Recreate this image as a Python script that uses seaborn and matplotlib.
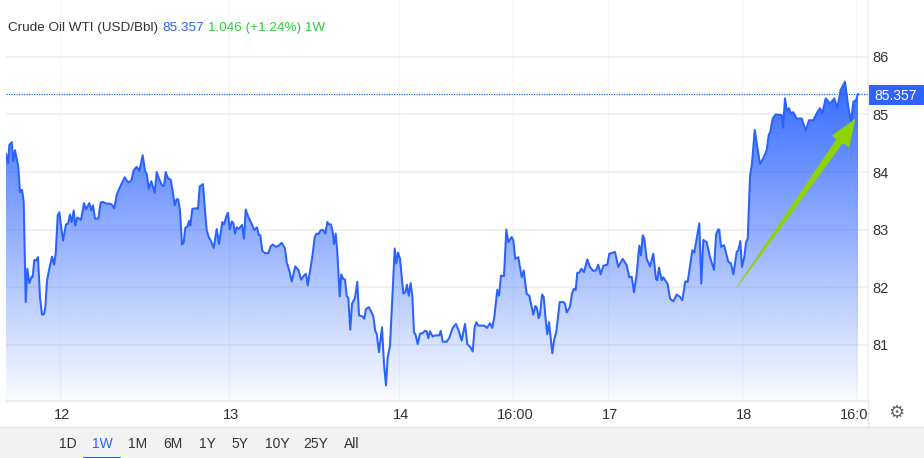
import numpy as np
import pandas as pd
import seaborn as sns
import matplotlib.pyplot as plt
from matplotlib.colors import to_rgb
from matplotlib.patches import Rectangle, Polygon
from matplotlib.transforms import ScaledTranslation

# bar number (roughly one per pixel of the week view) and WTI price
bars = [0, 2, 3.3, 5.7, 7.3, 9, 12.3, 14, 16, 17.7,
        19.7, 21.3, 23.3, 25.7, 26.7, 28.3, 30, 32, 34, 36,
        38, 39.3, 41, 43.3, 46, 48, 49.7, 51.7, 53.3, 57,
        60, 62, 64, 65.7, 67.7, 69.3, 71.3, 75, 78, 80,
        83.3, 85.3, 87, 89, 92.3, 94.7, 96.7, 100.7, 104, 106.7,
        108.3, 110.7, 112.7, 115.7, 118.7, 122, 125.3, 127.7, 130.7, 133.3,
        136.7, 139, 140.7, 142.7, 145.3, 148.7, 150.7, 153.3, 156.3, 158,
        159.7, 162, 164.7, 167.3, 168.7, 170.7, 172.3, 174, 176, 177.7,
        179.3, 181.3, 183, 184.3, 186.3, 190.7, 192, 193.7, 197, 199,
        200.7, 202.7, 204.7, 207.7, 210.7, 213, 216.3, 218, 220.7, 222,
        223.7, 225.7, 227.3, 229, 230.7, 232.7, 236, 238, 239.7, 242.3,
        245.7, 248.3, 251, 252.7, 254.3, 256.3, 259, 262.3, 264.7, 266.7,
        269.7, 272.7, 275.7, 279, 280.7, 283.3, 285.7, 289.3, 292.7, 295,
        298, 300, 301.7,
        305, 306.7, 308.7, 310.7, 312.3, 314.7, 317.3, 319.3, 321.3, 323,
        325, 326.7, 328, 329.7, 331.3, 333.7, 335.3, 337.3, 339, 340.7,
        342.3, 344.3, 346, 349, 351.3, 353, 356.3, 358.3, 360, 363,
        365, 367.3, 369.3, 370.7, 373, 376, 378, 380, 381.7, 384,
        386, 388.7, 390.3, 392, 394, 397.3, 399.3, 401, 402.7, 404.7,
        406.3, 408, 409.7, 411.7, 414, 416.7, 419, 420.7, 422.3, 424,
        426.7, 429, 433.3, 434.7, 436.7, 440.7, 443.3, 446.7, 450, 452.7,
        455.7, 459, 461.3, 464.7, 466.7, 468.7, 470.3, 472.3, 478.3, 481,
        484, 486.3, 488.3, 491.3, 493, 495, 498, 500.3, 502.3, 505.7,
        507.3, 509.3, 512.3, 515.7, 517.7, 520.7, 523.3, 527.3, 529.3, 530.7,
        532.7, 534, 536, 537.7, 540, 541.3, 543, 546.3, 548.3, 550.3,
        553.7, 557.3, 559, 560.7, 564, 566, 568, 569.7, 571.3, 573.3,
        575.3, 578, 581.3, 584, 587.3, 590, 592.3, 594.7, 597.3, 601.3,
        603.3, 609, 612.3, 616.7, 620.7, 623.3, 625.7, 628, 630.7, 633.3,
        635, 636.7, 638.3, 640.7, 644, 647.3, 650, 651.3, 653, 655.7,
        657.3, 661.7, 664, 667.3, 670.7, 674, 676.3, 679.3, 681.7, 686.3,
        688.3, 693.3, 695.3, 697.3, 700.7, 704, 708, 710, 712, 713.3,
        715, 718, 722.3, 725, 727.3, 730.7, 732.3, 734.3, 736, 738.3,
        740, 741.7, 744, 746, 748.7, 754, 757.3, 760.7, 762.7, 764.3,
        766.7, 769.7, 775.7, 777, 779, 780.7, 783, 784.7, 787.3, 790.7,
        795.7, 799.7, 803, 807.3, 810.7, 814, 816.3, 819.7, 824, 828.3,
        831.3, 834.7, 839, 842.3, 845, 847.3, 850, 852]
prices = [84.32, 84.15, 84.47, 84.52, 84.19, 84.38, 84.09, 83.65, 83.69, 83.48,
          81.74, 82.32, 82.07, 82.18, 82.18, 82.47, 82.46, 82.52, 81.82, 81.52,
          81.53, 81.65, 82.11, 82.32, 82.53, 82.39, 82.58, 83.25, 83.30, 82.81,
          83.09, 83.10, 83.26, 83.13, 83.33, 83.07, 83.21, 83.17, 83.46, 83.35,
          83.46, 83.33, 83.42, 83.19, 83.19, 83.47, 83.48, 83.45, 83.45, 83.42,
          83.37, 83.60, 83.69, 83.80, 83.91, 83.82, 83.85, 84.03, 84.09, 84.02,
          84.29, 84.02, 83.97, 83.71, 83.84, 83.64, 84.00, 83.87, 83.76, 83.76,
          84.00, 83.89, 83.87, 83.60, 83.42, 83.53, 83.52, 83.33, 82.74, 82.77,
          83.03, 83.05, 83.15, 83.07, 83.36, 83.37, 83.36, 83.75, 83.79, 83.33,
          82.99, 82.87, 82.81, 82.68, 83.01, 82.75, 83.13, 83.09, 83.25, 83.29,
          83.00, 83.14, 83.12, 82.93, 83.04, 83.01, 83.08, 82.84, 83.35, 83.22,
          83.10, 82.99, 83.04, 82.91, 82.90, 82.63, 82.59, 82.59, 82.71, 82.74,
          82.70, 82.72, 82.77, 82.67, 82.43, 82.29, 82.10, 82.36, 82.29, 82.13,
          82.20, 82.23, 82.03,
          82.38, 82.58, 82.87, 82.93, 82.92, 82.99, 82.99, 82.93, 83.13, 83.09,
          83.09, 82.96, 82.75, 82.93, 82.61, 81.84, 82.22, 82.14, 82.13, 81.85,
          81.81, 81.26, 81.71, 81.81, 82.09, 81.51, 81.49, 81.45, 81.62, 81.65,
          81.58, 81.49, 81.23, 81.19, 80.87, 81.30, 80.66, 80.29, 80.78, 80.98,
          81.71, 82.67, 82.41, 82.60, 82.49, 81.89, 81.91, 82.04, 81.85, 82.07,
          81.85, 81.22, 81.16, 81.01, 81.19, 81.20, 81.24, 81.23, 81.11, 81.23,
          81.14, 81.16, 81.16, 81.24, 81.05, 81.05, 81.12, 81.29, 81.36, 81.24,
          81.07, 81.36, 81.01, 80.95, 80.88, 81.31, 81.39, 81.33, 81.33, 81.29,
          81.37, 81.29, 81.48, 81.95, 81.85, 82.20, 82.19, 83.00, 82.78, 82.87,
          82.81, 82.49, 82.52, 82.17, 82.29, 81.88, 81.85, 81.52, 81.67, 81.65,
          81.46, 81.53, 81.87, 81.83, 81.37, 81.18, 81.39, 80.85, 81.10, 81.22,
          81.74, 81.74, 81.71, 81.56, 81.66, 81.89, 81.97, 81.95, 82.25, 82.25,
          82.32, 82.26, 82.48, 82.35, 82.28, 82.29, 82.39, 82.22, 82.37, 82.39,
          82.58, 82.61, 82.35, 82.49, 82.38, 82.17, 82.18, 81.91, 82.23, 82.72,
          82.55, 82.90, 82.84, 82.49, 82.36, 82.58, 82.14, 82.12, 82.34, 82.12,
          82.17, 82.05, 81.80, 81.75, 81.87, 81.83, 81.77, 82.10, 82.09, 82.64,
          82.60, 83.11, 82.06, 82.82, 82.78, 82.52, 82.30, 82.90, 83.00, 83.00,
          82.70, 82.73, 82.44, 82.41, 82.22, 82.61, 82.64, 82.80, 82.35, 82.52,
          82.78, 82.84, 83.92, 84.15, 84.73, 84.14, 84.24, 84.38, 84.64, 84.70,
          84.93, 85.00, 84.99, 84.77, 85.28, 85.08, 85.11, 85.02, 85.04, 84.93,
          84.93, 84.72, 84.90, 84.90, 85.02, 85.11, 85.02, 85.28, 85.19, 85.28,
          85.11, 85.43, 85.57, 85.13, 84.87, 85.22, 85.25, 85.357]

price_ticks = [81, 82, 83, 84, 85, 86]
date_ticks = [54, 222.7, 393.3, 507.3, 602, 735.7, 850]
date_labels = ['12', '13', '14', '16:00', '17', '18', '16:00']
ranges = ['1D', '1W', '1M', '6M', '1Y', '5Y', '10Y', '25Y', 'All']
last_price = 85.357

BLUE = '#2962ff'
TEXT = '#333333'

sns.set_style('white')
plt.rcParams['font.family'] = ['Liberation Sans', 'DejaVu Sans']

df = pd.DataFrame({'bar': bars, 'price': prices})

fig = plt.figure(figsize=(9.24, 4.58), dpi=100)
ax = fig.add_axes([6 / 924, 1 - 401 / 458, 862 / 924, 401 / 458])

# gradient under the line, clipped to the area below the prices
area = ax.fill_between(df['bar'], df['price'], 80, color='none', lw=0)
grad = np.zeros((256, 1, 4))
grad[:, 0, :3] = to_rgb(BLUE)
grad[:, 0, 3] = np.linspace(0.95, 0.02, 256)
img = ax.imshow(grad, extent=[0, 852, 80.02, 85.6], aspect='auto', origin='upper', zorder=1.5)
img.set_clip_path(area.get_paths()[0], ax.transData)

sns.lineplot(data=df, x='bar', y='price', ax=ax, color=BLUE, lw=1.45, estimator=None, sort=False, zorder=3)
ax.axhline(last_price, color=BLUE, lw=0.9, ls=(0, (1, 1)), zorder=3)

ax.set_xlim(0, 862)
ax.set_ylim(80.02, 86.99)
ax.yaxis.tick_right()
ax.set_yticks(price_ticks)
ax.set_xticks(date_ticks)
ax.set_xticklabels(date_labels)
ax.set_xlabel('')
ax.set_ylabel('')
ax.tick_params(axis='both', length=0, labelsize=10.5, labelcolor=TEXT)
ax.tick_params(axis='x', pad=5)
ax.tick_params(axis='y', pad=3)
ax.grid(True, axis='y', color='#efefef', lw=1.2)
ax.grid(True, axis='x', color='#f3f6fa', lw=1)
ax.set_axisbelow(True)
for s in ['top', 'left']:
    ax.spines[s].set_visible(False)
ax.spines['bottom'].set_color('#eeeeee')
ax.spines['bottom'].set_linewidth(1.5)
ax.spines['right'].set_color('#eeeeee')
ax.spines['right'].set_linewidth(1.2)

# date labels sit a touch right of their grid lines
for lbl in ax.get_xticklabels():
    lbl.set_transform(lbl.get_transform() + ScaledTranslation(1.5 / 72, 0, fig.dpi_scale_trans))

# overlay in pixel coords for the header, price tag, arrow and range bar
ov = fig.add_axes([0, 0, 1, 1], zorder=5)
ov.set_xlim(0, 924)
ov.set_ylim(458, 0)
ov.axis('off')
ov.patch.set_alpha(0)

ov.text(8, 28, 'Crude Oil WTI (USD/Bbl)', fontsize=9.7, color=TEXT, va='center')
ov.text(162, 28, '85.357', fontsize=9.7, color=BLUE, va='center')
ov.text(208, 28, '1.046 (+1.24%) 1W', fontsize=9.7, color='#2ecc40', va='center')

ov.add_patch(Rectangle((869, 85), 55, 20, color='#2f62ff', lw=0))
ov.text(896, 95.5, '85.357', fontsize=10, color='white', va='center', ha='center')

ov.add_patch(Polygon([(737, 287), (837, 139), (832.3, 135.7), (855, 119.3), (849, 146.7), (842.7, 142.7)],
                     closed=True, facecolor='#8fd400', edgecolor='#8fd400', lw=0.5))

# hides the end of the clipped 16:00 label
ov.add_patch(Rectangle((868.6, 402), 55.4, 25, color='white', lw=0))
ov.plot([868, 868], [401, 427], color='#e6e6e6', lw=1)
ov.text(896, 414, '\u2699', fontsize=13, color='#666666', ha='center', va='center')

ov.add_patch(Rectangle((0, 427), 924, 31, color='#f3f3f3', lw=0))
ov.plot([0, 924], [427, 427], color='#e4e4e4', lw=1)
range_x = [67.5, 102.5, 138, 172.5, 207, 239.5, 277, 316, 351.5]
for x, r in zip(range_x, ranges):
    ov.text(x, 444, r, fontsize=10, color=BLUE if r == '1W' else TEXT, ha='center', va='center')
ov.plot([84, 120], [457.5, 457.5], color=BLUE, lw=1.5)

fig.savefig('out.png', dpi=100)
